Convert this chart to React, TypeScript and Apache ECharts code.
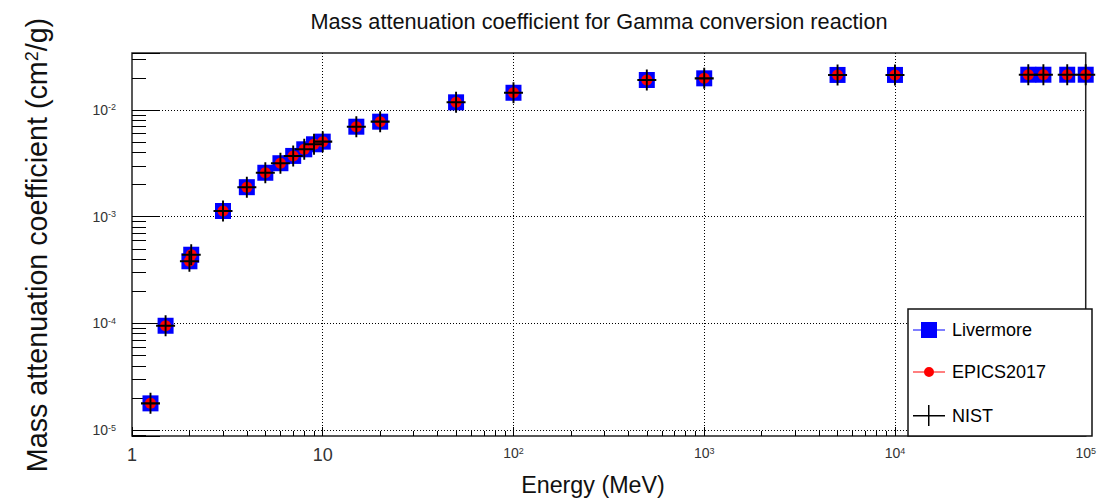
import React, { useEffect, useRef } from 'react';
import * as echarts from 'echarts';

// Photon energies (MeV)
const energyMeV = [1.25, 1.5, 2, 2.044, 3, 4, 5, 6, 7, 8, 9, 10, 15, 20, 50, 100, 500, 1000, 5000, 10000, 50000, 60000, 80000, 100000];
// Mass attenuation coefficient (cm2/g)
const livermore = [1.78e-5, 9.5e-5, 3.82e-4, 4.4e-4, 1.13e-3, 1.89e-3, 2.58e-3, 3.17e-3, 3.71e-3, 4.28e-3, 4.77e-3, 5.05e-3, 6.97e-3, 7.77e-3, 1.18e-2, 1.45e-2, 1.91e-2, 1.98e-2, 2.13e-2, 2.13e-2, 2.14e-2, 2.14e-2, 2.14e-2, 2.14e-2];
const epics2017 = [1.78e-5, 9.5e-5, 3.82e-4, 4.4e-4, 1.13e-3, 1.89e-3, 2.58e-3, 3.17e-3, 3.71e-3, 4.28e-3, 4.77e-3, 5.05e-3, 6.97e-3, 7.77e-3, 1.18e-2, 1.45e-2, 1.91e-2, 1.98e-2, 2.13e-2, 2.13e-2, 2.14e-2, 2.14e-2, 2.14e-2, 2.14e-2];
const nist = [1.78e-5, 9.5e-5, 3.82e-4, 4.4e-4, 1.13e-3, 1.89e-3, 2.58e-3, 3.17e-3, 3.71e-3, 4.28e-3, 4.77e-3, 5.05e-3, 6.97e-3, 7.77e-3, 1.18e-2, 1.45e-2, 1.91e-2, 1.98e-2, 2.13e-2, 2.13e-2, 2.14e-2, 2.14e-2, 2.14e-2, 2.14e-2];

const xRange = [1, 100000];
const yRange = [8.8e-6, 0.0342];

const seriesNames = ['Livermore', 'EPICS2017', 'NIST'];
const titleText = 'Mass attenuation coefficient for Gamma conversion reaction';
const xTitle = 'Energy (MeV)';

const FONT = '"Liberation Sans", Arial, Helvetica, sans-serif';

const pairs = (xs: number[], ys: number[]) => xs.map((x, i) => [x, ys[i]]);

const decade = (v: number): number | null => {
  const e = Math.log10(v);
  const r = Math.round(e);
  return Math.abs(e - r) < 1e-6 ? r : null;
};

const SQUARE_ICON = 'path://M0,10H32V11H0Z M8,2.5H24V18.5H8Z';
const CIRCLE_ICON = 'path://M0,10H32V11H0Z M21,10.5A5,5,0,1,1,11,10.5A5,5,0,1,1,21,10.5Z';
const CROSS_ICON = 'path://M0,10H32V11.5H0Z M15,0H16.5V21H15Z';
const PLUS_SYMBOL = 'path://M0,9H20V11H0Z M9,0H11V20H9Z';

export default function App() {
  const ref = useRef<HTMLDivElement>(null);

  useEffect(() => {
    if (!ref.current) return;
    const chart = echarts.init(ref.current, undefined, { renderer: 'svg' });

    const tickLabelColor = '#333';

    chart.setOption({
      animation: false,
      backgroundColor: '#fff',
      textStyle: { fontFamily: FONT },
      grid: {
        left: 132,
        top: 53,
        right: 7,
        bottom: 66,
        show: true,
        borderColor: '#222',
        borderWidth: 1.5,
        containLabel: false,
      },
      xAxis: {
        type: 'log',
        logBase: 10,
        min: xRange[0],
        max: xRange[1],
        axisLine: { show: false },
        axisTick: { show: true, inside: true, length: 9, lineStyle: { color: '#000', width: 1 } },
        minorTick: { show: true, splitNumber: 9, length: 5, lineStyle: { color: '#000', width: 1 } },
        splitLine: { show: true, showMinLine: false, showMaxLine: false, lineStyle: { color: '#000', type: [1, 2], width: 1 } },
        axisLabel: {
          margin: 10,
          color: tickLabelColor,
          showMinLabel: true,
          showMaxLabel: true,
          formatter: (v: number) => {
            const r = decade(v);
            if (r === null) return '';
            if (r === 0) return '{big|1}';
            if (r === 1) return '{big|10}';
            return `{b|10}{s|${r}}`;
          },
          rich: {
            big: { fontSize: 18, fontFamily: FONT, color: tickLabelColor },
            b: { fontSize: 14, fontFamily: FONT, color: tickLabelColor },
            s: { fontSize: 9, fontFamily: FONT, color: tickLabelColor, verticalAlign: 'top' },
          },
        },
      },
      yAxis: {
        type: 'log',
        logBase: 10,
        min: yRange[0],
        max: yRange[1],
        axisLine: { show: false },
        axisTick: { show: true, inside: true, length: 28, lineStyle: { color: '#000', width: 1 } },
        minorTick: { show: true, splitNumber: 9, length: 14, lineStyle: { color: '#000', width: 1 } },
        splitLine: { show: true, showMinLine: false, showMaxLine: false, lineStyle: { color: '#000', type: [1, 2], width: 1 } },
        axisLabel: {
          margin: 16,
          color: tickLabelColor,
          formatter: (v: number) => {
            const r = decade(v);
            if (r === null) return '';
            return `{b|10}{s|${r}}`;
          },
          rich: {
            b: { fontSize: 14, fontFamily: FONT, color: tickLabelColor },
            s: { fontSize: 9, fontFamily: FONT, color: tickLabelColor, verticalAlign: 'top' },
          },
        },
      },
      legend: {
        orient: 'vertical',
        left: 913,
        top: 321,
        padding: 0,
        itemWidth: 32,
        itemHeight: 21,
        itemGap: 24,
        selectedMode: false,
        itemStyle: { opacity: 1 },
        textStyle: { fontSize: 18, fontFamily: FONT, color: '#000', padding: [0, 0, 0, 2] },
        data: [
          { name: seriesNames[0], icon: SQUARE_ICON },
          { name: seriesNames[1], icon: CIRCLE_ICON },
          { name: seriesNames[2], icon: CROSS_ICON },
        ],
      },
      graphic: {
        elements: [
          {
            type: 'text',
            x: 599,
            y: 21,
            style: {
              text: titleText,
              fontSize: 21.7,
              fontFamily: FONT,
              fill: '#111',
              align: 'center',
              verticalAlign: 'middle',
              textAlign: 'center',
              textVerticalAlign: 'middle',
            },
          },
          {
            type: 'text',
            x: 593,
            y: 485,
            style: {
              text: xTitle,
              fontSize: 23.3,
              fontFamily: FONT,
              fill: '#111',
              align: 'center',
              verticalAlign: 'middle',
              textAlign: 'center',
              textVerticalAlign: 'middle',
            },
          },
          {
            type: 'text',
            x: 37,
            y: 245,
            rotation: Math.PI / 2,
            style: {
              text: 'Mass attenuation coefficient (cm{sup|2}/g)',
              fontSize: 28.7,
              fontFamily: FONT,
              fill: '#111',
              align: 'center',
              verticalAlign: 'middle',
              textAlign: 'center',
              textVerticalAlign: 'middle',
              rich: {
                sup: { fontSize: 18, fontFamily: FONT, fill: '#111', verticalAlign: 'top' },
              },
            },
          },
          {
            type: 'rect',
            z: 3,
            shape: { x: 908, y: 309, width: 184, height: 127 },
            style: { fill: '#fff', stroke: '#111', lineWidth: 1.5 },
          },
        ],
      },
      series: [
        {
          name: seriesNames[0],
          type: 'scatter',
          data: pairs(energyMeV, livermore),
          symbol: 'rect',
          symbolSize: 16,
          itemStyle: { color: '#0000ff', opacity: 1 },
          z: 5,
        },
        {
          name: seriesNames[1],
          type: 'scatter',
          data: pairs(energyMeV, epics2017),
          symbol: 'circle',
          symbolSize: 11,
          itemStyle: { color: '#ff0000', opacity: 1 },
          z: 6,
        },
        {
          name: seriesNames[2],
          type: 'scatter',
          data: pairs(energyMeV, nist),
          symbol: PLUS_SYMBOL,
          symbolSize: [19, 21],
          itemStyle: { color: '#000', opacity: 1 },
          z: 7,
        },
      ],
    });

    return () => chart.dispose();
  }, []);

  return (
    <div
      ref={ref}
      style={{ position: 'absolute', left: 0, top: 0, width: 1099, height: 502, background: '#fff' }}
    />
  );
}
